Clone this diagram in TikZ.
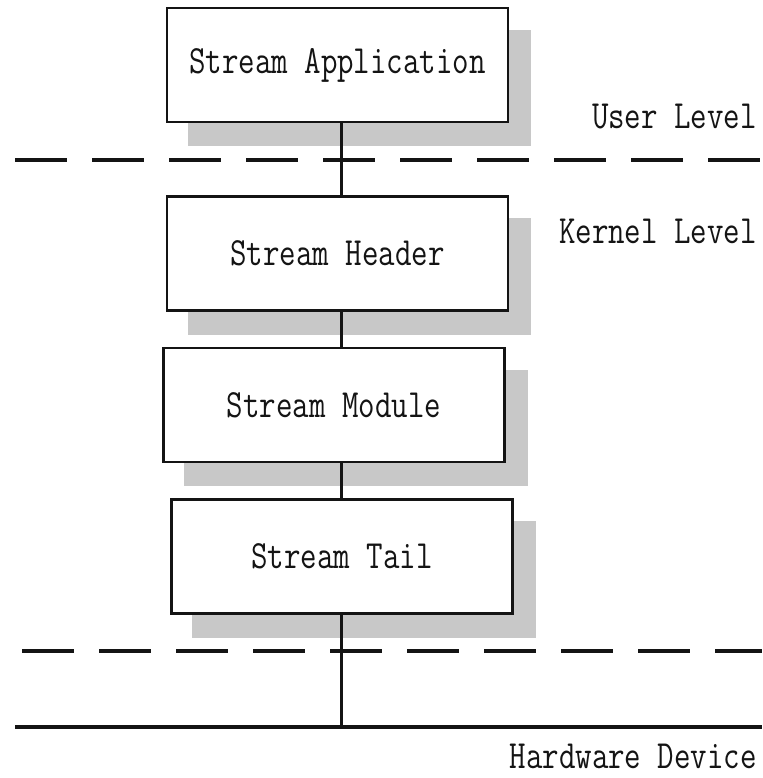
\documentclass[tikz,border=0pt]{standalone}
\usetikzlibrary{backgrounds}
\definecolor{shadowgray}{RGB}{200,200,200}
\definecolor{inkgray}{RGB}{20,20,20}
\tikzset{
  layerbox/.style={draw=inkgray, line width=2.6pt, fill=white, minimum width=341pt, minimum height=114pt,
    inner sep=0pt, font=\fontsize{32}{32}\selectfont\ttfamily, text=inkgray},
  levelline/.style={draw=inkgray, line width=4pt, dash pattern=on 52pt off 25pt},
  spine/.style={draw=inkgray, line width=3pt},
  levellabel/.style={anchor=east, inner sep=0pt, font=\fontsize{32}{32}\selectfont\ttfamily, text=inkgray}
}
\newcommand{\tallword}[1]{\scalebox{1}[1.25]{#1}}
\begin{document}
\begin{tikzpicture}[x=1pt,y=-1pt]
  \useasboundingbox (0,0) rectangle (762,778);

  % stack of stream layers
  \node[layerbox] (app) at (337.5,65) {\tallword{Stream Application}};
  \node[layerbox] (head) at (337.5,253.5) {\tallword{Stream Header}};
  \node[layerbox] (mod) at (334,405) {\tallword{Stream Module}};
  \node[layerbox] (tail) at (342,556.5) {\tallword{Stream Tail}};
  \coordinate (hw) at (341,727);

  \begin{scope}[on background layer]
    % drop shadows
    \foreach \n in {app,head,mod,tail}
      \fill[shadowgray] ([shift={(22,23)}]\n.south west) rectangle ([shift={(22,23)}]\n.north east);
    % vertical path down to the hardware
    \draw[spine] (app.south -| hw) -- (hw);
  \end{scope}

  % level boundaries
  \coordinate (u1) at (15,160);
  \coordinate (u2) at (762,160);
  \coordinate (k1) at (22,651);
  \coordinate (k2) at (762,651);
  \coordinate (h1) at (15,727);
  \coordinate (h2) at (762,727);
  \draw[levelline] (u1) -- (u2);
  \draw[levelline] (k1) -- (k2);
  \draw[draw=inkgray, line width=3.2pt] (h1) -- (hw) -- (h2);

  % level labels
  \node[levellabel] (user) at (757,117) {\tallword{User Level}};
  \node[levellabel] (kernel) at (757,231) {\tallword{Kernel Level}};
  \node[levellabel] (hwlabel) at (757,756) {\tallword{Hardware Device}};
\end{tikzpicture}
\end{document}
